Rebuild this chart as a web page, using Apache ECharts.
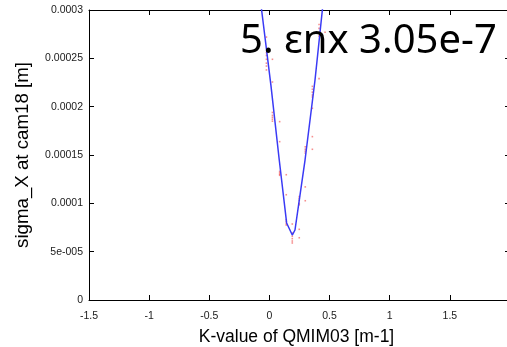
<!DOCTYPE html>
<html><head><meta charset="utf-8">
<script src="https://cdn.jsdelivr.net/npm/echarts@6/dist/echarts.min.js"></script>
<style>html,body{margin:0;padding:0;background:#fff}#c{width:507px;height:347px}</style>
</head><body><div id="c"></div>
<script>
// fitted curve
const lineK = [-0.1, -0.065, 0.0125, 0.0817, 0.143, 0.19, 0.2125, 0.296, 0.379, 0.44, 0.48];
const lineSigma = [3.37e-4, 3.0e-4, 2.22e-4, 1.448e-4, 7.97e-5, 6.72e-5, 7.24e-5, 1.448e-4, 2.276e-4, 3.0e-4, 3.48e-4];
// measured points
const dotK = [
 -0.025,-0.025,-0.025,-0.025,-0.025,-0.025,-0.025,
 0.025,0.025,0.025,0.025,0.025,0.025,0.025,
 0.085,0.085,0.085,0.085,0.085,0.085,
 0.14,0.14,0.14,0.14,0.14,0.14,
 0.19,0.19,0.19,0.19,0.19,0.19,
 0.248,0.248,0.248,0.248,0.248,0.248,0.248,
 0.298,0.298,0.298,0.298,0.298,0.298,
 0.357,0.357,0.357,0.357,0.357,0.357,0.357,0.357,
 0.4125,0.4125,0.4125,0.4125,0.4125,
 0.4625
];
const dotSigma = [
 2.72e-4,2.56e-4,2.53e-4,2.49e-4,2.45e-4,2.42e-4,2.38e-4,
 2.49e-4,2.255e-4,1.94e-4,1.91e-4,1.89e-4,1.87e-4,1.85e-4,
 1.845e-4,1.638e-4,1.33e-4,1.315e-4,1.30e-4,1.29e-4,
 1.296e-4,1.089e-4,8.3e-5,8.1e-5,7.9e-5,7.75e-5,
 7.86e-5,6.93e-5,6.6e-5,6.35e-5,6.1e-5,5.9e-5,
 1.07e-4,1.05e-4,1.03e-4,1.0e-4,9.85e-5,7.31e-5,6.44e-5,
 1.585e-4,1.56e-4,1.54e-4,1.52e-4,1.17e-4,1.027e-4,
 2.21e-4,2.18e-4,2.15e-4,2.12e-4,2.1e-4,1.983e-4,1.69e-4,1.559e-4,
 2.85e-4,2.81e-4,2.77e-4,2.73e-4,2.29e-4,
 2.77e-4
];
const yTickLabels = {0:'0', 5e-5:'5e-005', 1e-4:'0.0001', 1.5e-4:'0.00015', 2e-4:'0.0002', 2.5e-4:'0.00025', 3e-4:'0.0003'};
const xTitle = 'K-value of QMIM03 [m-1]';
const yTitle = 'sigma_X at cam18 [m]';
const annotation = '5. \u03b5nx 3.05e-7';

const chart = echarts.init(document.getElementById('c'), null, {renderer:'canvas'});
const labelFont = {fontFamily:'Liberation Sans', fontSize:10.5, color:'#1a1a1a'};
function yFmt(v){
  for (const k in yTickLabels){ if (Math.abs(+k - v) < 1e-9) return yTickLabels[k]; }
  return '';
}
const axisLine = {show:true, onZero:false, lineStyle:{color:'#000', width:1}};
const tick = {show:true, inside:true, length:5, lineStyle:{color:'#000', width:1}};
chart.setOption({
  animation:false,
  grid:{left:89, right:-3, top:10, bottom:47, containLabel:false, outerBoundsMode:'none'},
  xAxis:[
    {type:'value', min:-1.5, max:2, interval:0.5, position:'bottom',
     axisLine:axisLine, axisTick:tick, splitLine:{show:false},
     axisLabel:Object.assign({margin:11, showMaxLabel:false, formatter:v=>String(v)}, labelFont),
     name:xTitle, nameLocation:'middle', nameGap:28,
     nameTextStyle:{fontFamily:'Liberation Sans', fontSize:17.5, color:'#000', padding:[0,0,0,-6]}},
    {type:'value', min:-1.5, max:2, interval:0.5, position:'top',
     axisLine:axisLine, axisTick:tick, splitLine:{show:false}, axisLabel:{show:false}}
  ],
  yAxis:[
    {type:'value', min:0, max:3e-4, interval:5e-5, position:'left',
     axisLine:axisLine, axisTick:tick, splitLine:{show:false},
     axisLabel:Object.assign({margin:6, formatter:yFmt}, labelFont),
     name:yTitle, nameLocation:'middle', nameGap:57,
     nameTextStyle:{fontFamily:'Liberation Sans', fontSize:18.7, color:'#000'}},
    {type:'value', min:0, max:3e-4, interval:5e-5, position:'right',
     axisLine:axisLine, axisTick:tick, splitLine:{show:false}, axisLabel:{show:false}}
  ],
  series:[
    {type:'scatter', data:dotK.map((k,i)=>[k, dotSigma[i]]), symbol:'rect', symbolSize:1.6,
     itemStyle:{color:'rgba(235,0,0,0.55)'}, silent:true, clip:true, z:2},
    {type:'line', data:lineK.map((k,i)=>[k, lineSigma[i]]), showSymbol:false, symbol:'none',
     lineStyle:{color:'#3a3af5', width:1.5}, clip:true, z:3}
  ],
  graphic:[
    {type:'text', left:240, top:22, z:10,
     style:{text:annotation, font:'40px "Noto Sans"', fill:'#000'}}
  ]
});
</script></body></html>
